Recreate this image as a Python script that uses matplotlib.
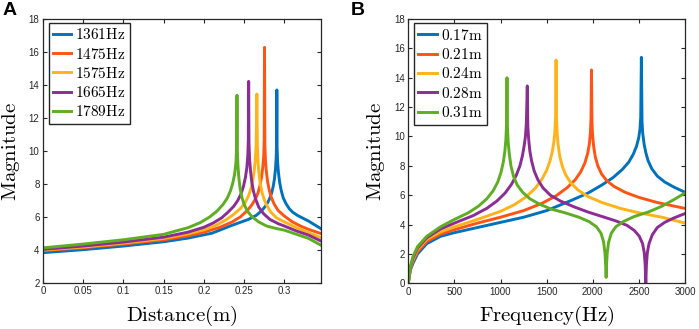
import matplotlib
matplotlib.use("Agg")
import matplotlib.pyplot as plt

plt.rcParams['mathtext.fontset'] = 'cm'
plt.rcParams['font.family'] = ['Liberation Sans', 'DejaVu Sans']

# ---------------- Panel A data (Distance vs Magnitude) ----------------
a_labels = ['1361Hz', '1475Hz', '1575Hz', '1665Hz', '1789Hz']

a_x_1361 = [0, 0.05, 0.1, 0.15, 0.18, 0.21, 0.235, 0.255, 0.265, 0.272, 0.277, 0.281, 0.284, 0.286,
            0.2875, 0.2888, 0.2897, 0.2902, 0.2905, 0.2908, 0.2915, 0.2925, 0.294, 0.296, 0.2985,
            0.302, 0.306, 0.31, 0.316, 0.33, 0.345]
a_y_1361 = [3.84, 4.02, 4.24, 4.5, 4.72, 5.02, 5.5, 5.85, 6.1, 6.4, 6.7, 7.05, 7.45, 7.85,
            8.3, 8.9, 9.6, 10.5, 13.7, 10.3, 9.3, 8.7, 8.1, 7.6, 7.15,
            6.8, 6.5, 6.3, 6.1, 5.75, 5.3]

a_x_1475 = [0, 0.05, 0.1, 0.15, 0.18, 0.2, 0.22, 0.235, 0.245, 0.253, 0.259, 0.2635, 0.267, 0.2695,
            0.2715, 0.273, 0.2742, 0.2748, 0.2752, 0.2756, 0.2764, 0.2775, 0.279, 0.281, 0.2835,
            0.287, 0.292, 0.3, 0.31, 0.32, 0.33, 0.345]
a_y_1475 = [3.96, 4.14, 4.36, 4.62, 4.86, 5.08, 5.38, 5.7, 6.0, 6.35, 6.7, 7.05, 7.45, 7.9,
            8.4, 9.0, 9.7, 10.6, 16.28, 10.4, 9.4, 8.75, 8.15, 7.65, 7.2,
            6.8, 6.4, 6.05, 5.7, 5.45, 5.25, 5.0]

a_x_1575 = [0, 0.05, 0.1, 0.15, 0.18, 0.2, 0.215, 0.228, 0.238, 0.246, 0.2515, 0.2555, 0.2585,
            0.2608, 0.2625, 0.2638, 0.2648, 0.2657, 0.2664, 0.2672, 0.2683, 0.2698, 0.2718,
            0.2745, 0.278, 0.283, 0.29, 0.3, 0.315, 0.33, 0.345]
a_y_1575 = [4.0, 4.18, 4.42, 4.7, 4.98, 5.22, 5.5, 5.85, 6.2, 6.55, 6.9, 7.3, 7.75,
            8.25, 8.85, 9.5, 10.4, 13.45, 10.2, 9.3, 8.65, 8.05, 7.55,
            7.1, 6.7, 6.3, 5.95, 5.7, 5.35, 5.05, 4.75]

a_x_1665 = [0, 0.05, 0.1, 0.15, 0.18, 0.2, 0.212, 0.222, 0.23, 0.237, 0.242, 0.246, 0.249, 0.2515,
            0.2533, 0.2545, 0.2551, 0.2555, 0.2559, 0.2567, 0.2578, 0.2593, 0.2613, 0.264, 0.268,
            0.274, 0.282, 0.292, 0.3, 0.315, 0.33, 0.345]
a_y_1665 = [4.04, 4.24, 4.48, 4.78, 5.08, 5.38, 5.65, 5.95, 6.3, 6.65, 7.0, 7.4, 7.85, 8.4,
            9.0, 9.8, 10.7, 14.22, 10.5, 9.5, 8.8, 8.15, 7.6, 7.1, 6.6,
            6.2, 5.85, 5.6, 5.45, 5.15, 4.9, 4.55]

a_x_1789 = [0, 0.05, 0.1, 0.15, 0.18, 0.195, 0.207, 0.216, 0.2235, 0.229, 0.233, 0.236, 0.2382,
            0.2397, 0.2405, 0.241, 0.2415, 0.2422, 0.2433, 0.2448, 0.247, 0.25, 0.254, 0.26,
            0.268, 0.278, 0.29, 0.3, 0.315, 0.33, 0.345]
a_y_1789 = [4.13, 4.36, 4.62, 4.95, 5.35, 5.65, 6.0, 6.35, 6.75, 7.15, 7.6, 8.1, 8.65,
            9.3, 10.2, 13.38, 10.0, 9.1, 8.4, 7.75, 7.2, 6.75, 6.35, 6.0,
            5.7, 5.45, 5.3, 5.2, 4.95, 4.7, 4.3]

a_xticks = [0, 0.05, 0.1, 0.15, 0.2, 0.25, 0.3]
a_xticklabels = ['0', '0.05', '0.1', '0.15', '0.2', '0.25', '0.3']
a_yticks = [2, 4, 6, 8, 10, 12, 14, 16, 18]

# ---------------- Panel B data (Frequency vs Magnitude) ----------------
b_labels = ['0.17m', '0.21m', '0.24m', '0.28m', '0.31m']

b_f_017 = [0, 10, 25, 50, 100, 200, 350, 500, 750, 1000, 1250, 1500, 1750, 1950, 2100, 2220, 2320,
           2390, 2440, 2475, 2498, 2512, 2520, 2527, 2534, 2542, 2556, 2575, 2600, 2640, 2700,
           2780, 2880, 3000]
b_y_017 = [0, 0.45, 0.95, 1.35, 2.0, 2.7, 3.2, 3.45, 3.8, 4.15, 4.5, 4.95, 5.6, 6.15, 6.7, 7.2, 7.75,
           8.25, 8.8, 9.35, 9.9, 10.5, 11.3, 15.39, 11.0, 10.2, 9.5, 8.9, 8.35, 7.8, 7.3,
           6.9, 6.55, 6.2]

b_f_021 = [0, 10, 25, 50, 100, 200, 350, 500, 750, 1000, 1250, 1450, 1600, 1720, 1810, 1870, 1915,
           1945, 1963, 1975, 1981, 1986, 1991, 1998, 2010, 2028, 2055, 2095, 2150, 2230, 2350,
           2500, 2700, 2850, 3000]
b_y_021 = [0, 0.5, 1.05, 1.5, 2.15, 2.85, 3.35, 3.65, 4.1, 4.5, 4.95, 5.45, 5.95, 6.5, 7.05, 7.6, 8.2,
           8.85, 9.5, 10.3, 11.2, 14.53, 11.0, 10.1, 9.3, 8.6, 8.0, 7.45, 7.0, 6.6, 6.2,
           5.85, 5.5, 5.3, 5.1]

b_f_024 = [0, 10, 25, 50, 100, 200, 350, 500, 750, 1000, 1150, 1280, 1380, 1450, 1500, 1537, 1562,
           1580, 1591, 1597, 1602, 1607, 1614, 1625, 1642, 1668, 1705, 1760, 1840, 1950, 2100,
           2300, 2500, 2750, 3000]
b_y_024 = [0, 0.5, 1.1, 1.6, 2.3, 3.0, 3.5, 3.85, 4.35, 4.9, 5.35, 5.9, 6.5, 7.1, 7.7, 8.35, 9.0,
           9.7, 10.5, 11.4, 15.2, 11.2, 10.2, 9.4, 8.65, 8.0, 7.4, 6.85, 6.35, 5.9, 5.5,
           5.1, 4.8, 4.5, 4.1]

b_f_028 = [0, 10, 25, 50, 100, 200, 350, 500, 700, 850, 960, 1050, 1120, 1170, 1210, 1238, 1257,
           1270, 1280, 1290, 1296, 1305, 1318, 1338, 1365, 1405, 1460, 1540, 1650, 1800, 1950,
           2100, 2250, 2370, 2450, 2505, 2540, 2558, 2568, 2575, 2582, 2592, 2610, 2645, 2700,
           2780, 2880, 3000]
b_y_028 = [0, 0.55, 1.15, 1.7, 2.4, 3.1, 3.7, 4.1, 4.6, 5.1, 5.6, 6.15, 6.75, 7.35, 8.0, 8.7, 9.4,
           10.0, 10.9, 13.44, 10.7, 9.8, 9.0, 8.3, 7.65, 7.05, 6.5, 6.0, 5.6, 5.2, 4.85,
           4.55, 4.25, 3.95, 3.6, 3.2, 2.7, 2.1, 1.3, 0, 1.3, 2.1, 2.7, 3.3, 3.8,
           4.15, 4.45, 4.75]

b_f_031 = [0, 10, 25, 50, 100, 200, 350, 500, 650, 760, 850, 920, 970, 1005, 1030, 1047, 1058,
           1065, 1070, 1075, 1083, 1095, 1113, 1140, 1180, 1240, 1320, 1420, 1550, 1700, 1850,
           1960, 2040, 2090, 2118, 2133, 2141, 2145, 2149, 2157, 2172, 2200, 2250, 2330, 2450,
           2600, 2750, 2880, 3000]
b_y_031 = [0, 0.55, 1.2, 1.8, 2.5, 3.2, 3.85, 4.35, 4.8, 5.25, 5.75, 6.3, 6.9, 7.55, 8.25, 9.0, 9.8,
           10.8, 14.0, 10.6, 9.6, 8.8, 8.0, 7.3, 6.7, 6.2, 5.75, 5.4, 5.05, 4.8, 4.5,
           4.2, 3.85, 3.4, 2.8, 2.0, 1.1, 0.4, 1.2, 2.1, 2.8, 3.4, 3.85, 4.2, 4.55,
           4.85, 5.25, 5.7, 6.15]

b_xticks = [0, 500, 1000, 1500, 2000, 2500, 3000]
b_yticks = [0, 2, 4, 6, 8, 10, 12, 14, 16, 18]

colors = ['#0072BD', '#FF5414', '#FFB31A', '#8C2D94', '#5EAD22']

W, H = 699, 329
fig = plt.figure(figsize=(W / 100, H / 100), dpi=100)
axA = fig.add_axes([43 / W, (H - 283) / H, 277.7 / W, 264 / H])
axB = fig.add_axes([408.3 / W, (H - 283.3) / H, 276.7 / W, 264.3 / H])

lw = 2.1
a_series = [(a_x_1361, a_y_1361), (a_x_1475, a_y_1475), (a_x_1575, a_y_1575),
            (a_x_1665, a_y_1665), (a_x_1789, a_y_1789)]
for (xs, ys), c, lab in zip(a_series, colors, a_labels):
    axA.plot(xs, ys, color=c, lw=lw, label=r'$\mathrm{' + lab + '}$')

b_series = [(b_f_017, b_y_017), (b_f_021, b_y_021), (b_f_024, b_y_024),
            (b_f_028, b_y_028), (b_f_031, b_y_031)]
for (xs, ys), c, lab in zip(b_series, colors, b_labels):
    axB.plot(xs, ys, color=c, lw=lw, label=r'$\mathrm{' + lab + '}$')

axA.set_xlim(0, 0.345)
axA.set_ylim(2, 18)
axA.set_xticks(a_xticks)
axA.set_xticklabels(a_xticklabels)
axA.set_yticks(a_yticks)

axB.set_xlim(0, 3000)
axB.set_ylim(0, 18)
axB.set_xticks(b_xticks)
axB.set_yticks(b_yticks)

for ax in (axA, axB):
    ax.tick_params(direction='in', top=True, right=True, length=3, width=0.8,
                   labelsize=7, pad=2.5, colors='#262626')
    for s in ax.spines.values():
        s.set_linewidth(0.9)
        s.set_color('#262626')
    ax.set_ylabel(r'$\mathrm{Magnitude}$', fontsize=15, labelpad=5)

axA.set_xlabel(r'$\mathrm{Distance(m)}$', fontsize=15, labelpad=5)
axB.set_xlabel(r'$\mathrm{Frequency(Hz)}$', fontsize=15, labelpad=5)

legA = axA.legend(loc='upper left', bbox_to_anchor=(0.02, 0.986), borderaxespad=0,
                  prop={'size': 11}, handlelength=1.2, handletextpad=0.25,
                  labelspacing=0.28, borderpad=0.3, fancybox=False, framealpha=1)
legB = axB.legend(loc='upper left', bbox_to_anchor=(0.02, 0.984), borderaxespad=0,
                  prop={'size': 11}, handlelength=1.2, handletextpad=0.25,
                  labelspacing=0.28, borderpad=0.3, fancybox=False, framealpha=1)
for leg in (legA, legB):
    leg.get_frame().set_edgecolor('#262626')
    leg.get_frame().set_linewidth(1.0)

fig.text(3 / W, 1 - 2 / H, 'A', fontsize=14, fontweight='bold', va='top', ha='left')
fig.text(351 / W, 1 - 2 / H, 'B', fontsize=14, fontweight='bold', va='top', ha='left')

fig.savefig('out.png', dpi=100)
